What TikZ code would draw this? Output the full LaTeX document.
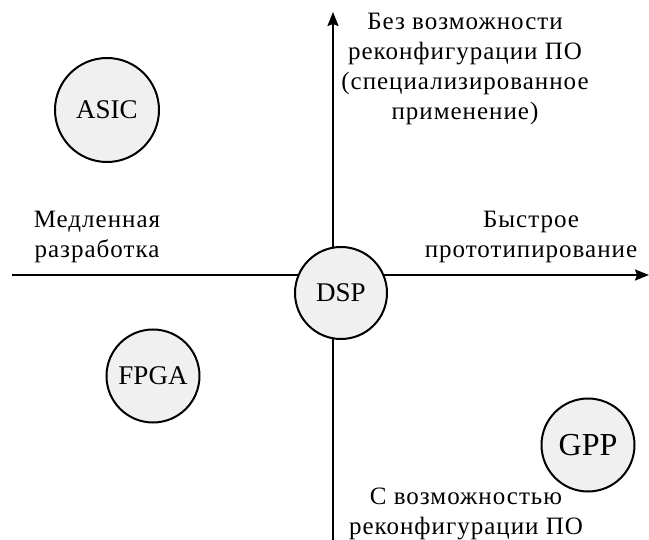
\documentclass[tikz,border=0pt]{standalone}
\usepackage{fontspec}
\setmainfont{Liberation Serif}
\newfontfamily\spaced{Liberation Serif}[LetterSpace=4]
\usetikzlibrary{arrows.meta}

\tikzset{
  unit/.style={circle, draw, line width=2pt, fill=gray!12, inner sep=0pt, font=\fontsize{27}{30}\selectfont},
  caption/.style={align=center, inner sep=0pt, font=\spaced\fontsize{25}{30}\selectfont},
  axis/.style={line width=2pt, -{Stealth[length=14pt, width=11pt, inset=2pt]}}
}

\begin{document}
\begin{tikzpicture}[x=1pt, y=-1pt]
		\useasboundingbox (0,0) rectangle (649,540);

		\coordinate (W) at (12,275);
		\coordinate (E) at (649,275);
		\coordinate (S) at (333,540);
		\coordinate (N) at (333,12);

		\draw[axis] (W) -- (E);
		\draw[axis] (S) -- (N);

		\node[caption] (slow) at (97,237) {Медленная\\разработка};
		\node[caption] (fast) at (531,237) {Быстрое\\прототипирование};
		\node[caption] (fixed) at (465,69) {Без возможности\\реконфигурации ПО\\(специализированное\\применение)};
		\node[caption] (reconf) at (466,514) {С возможностью\\реконфигурации ПО};

		\node[unit, minimum size=104pt] (asic) at (107,110) {ASIC};
		\node[unit, minimum size=93pt] (fpga) at (153,376) {FPGA};
		\node[unit, minimum size=92pt] (dsp) at (341,293) {DSP};
		\node[unit, minimum size=93pt, font=\fontsize{32}{36}\selectfont] (gpp) at (588,445) {GPP};
	\end{tikzpicture}
\end{document}
